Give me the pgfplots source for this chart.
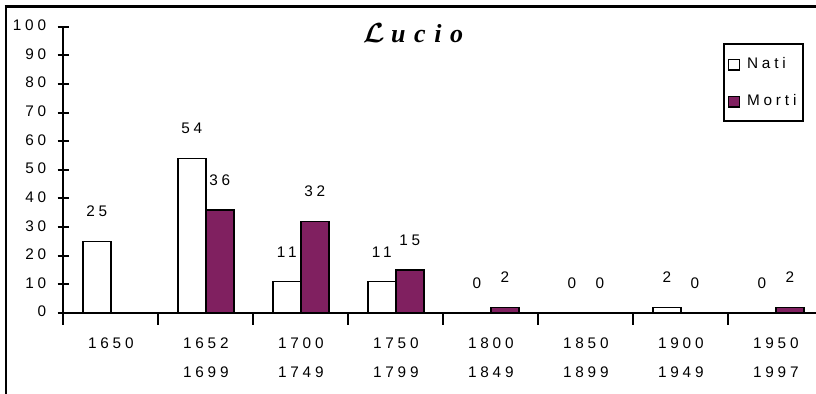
\documentclass[border=0pt]{standalone}
\usepackage{fontspec}
\usepackage{pgfplots}
\usepackage{pgfplotstable}
\pgfplotsset{compat=1.18}
\setmainfont{Liberation Sans}
\newfontfamily\lsp[LetterSpace=25]{Liberation Sans}
\newfontfamily\tsp[LetterSpace=33]{Liberation Serif}
\definecolor{morti}{RGB}{128,32,96}
\pgfplotsset{sqlegend/.style={legend image code/.code={\draw[##1, line width=1pt] (0pt,-4.5pt) rectangle (8.5pt,3.5pt); \path[draw=none, fill=none] (0pt,0pt) -- (12pt,0pt);}}}
\pgfplotstableread{
x nati morti
0 25 nan
1 54 36
2 11 32
3 11 15
4 0 2
5 0 0
6 2 0
7 0 2
}\datatab
\begin{document}
\begin{tikzpicture}
\useasboundingbox (0,0) rectangle (612pt,294.75pt);
\draw[line width=2pt, black] (4.5pt,-5pt) -- (4.5pt,290pt);
\draw[line width=2pt, black] (3.5pt,289.8pt) -- (620pt,289.8pt);
\node[font=\tsp\bfseries\itshape\fontsize{19.5}{21}\selectfont, anchor=base] at (309.75pt,262.5pt) {{\boldmath$\mathcal{L}$}\hspace{0.25em}ucio};
\begin{axis}[
  at={(47.5pt,60pt)}, anchor=south west,
  scale only axis,
  width=570pt, height=214.7pt,
  xmin=-0.5, xmax=7.5, ymin=0, ymax=100,
  axis x line*=bottom, axis y line*=left,
  axis line style={-, line width=1.5pt},
  tick style={black, line width=1.5pt},
  major tick length=8.7pt, tick align=center,
  ytick={0,10,20,30,40,50,60,70,80,90,100},
  yticklabels={0,10,20,30,40,50,60,70,80,90,100},
  yticklabel style={font=\lsp\fontsize{11.5}{13}\selectfont, xshift=-5pt, yshift=1pt},
  xtick={-0.5,0.5,1.5,2.5,3.5,4.5,5.5,6.5,7.5},
  x tick label as interval,
  xticklabels={1650,{1652\\1699},{1700\\1749},{1750\\1799},{1800\\1849},{1850\\1899},{1900\\1949},{1950\\1997}},
  xticklabel style={align=center, font=\lsp\fontsize{11.5}{21.75}\selectfont, yshift=-6pt},
  ybar=0pt, bar width=21pt,
  clip=false,
  nodes near coords={\pgfmathprintnumber[assume math mode=true]{\pgfplotspointmeta}},
  every node near coord/.append style={font=\lsp\fontsize{11.5}{13}\selectfont, black, yshift=14.5pt},
  legend style={at={(0.8676,0.943)}, anchor=north west, draw=black, line width=1.5pt,
    font=\lsp\fontsize{11.5}{13}\selectfont, row sep=14pt, inner xsep=3pt, inner ysep=8pt,
    legend cell align=left},
]
\addplot[draw=black, line width=1pt, fill=white, sqlegend]
  table[x=x, y=nati] {\datatab};
\addlegendentry{Nati}
\addplot[draw=black, line width=1pt, fill=morti, sqlegend]
  table[x=x, y=morti] {\datatab};
\addlegendentry{Morti}
\end{axis}
\end{tikzpicture}
\end{document}
